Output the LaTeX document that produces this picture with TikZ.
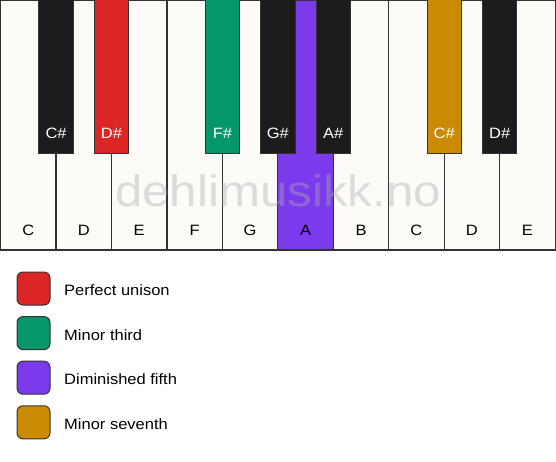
\documentclass[tikz,border=0pt]{standalone}
\usepackage{fontspec}
\setmainfont{Liberation Sans}

\definecolor{keywhite}{HTML}{FCFBF8}
\definecolor{keyblack}{HTML}{1C1C1C}
\definecolor{keyline}{HTML}{333333}
\definecolor{unison}{HTML}{DC2626}
\definecolor{third}{HTML}{059669}
\definecolor{fifth}{HTML}{7C3AED}
\definecolor{seventh}{HTML}{CA8A04}
\definecolor{mark}{HTML}{ACACAC}

\begin{document}
\begin{tikzpicture}[x=1pt,y=-1pt,
  keytext/.style={font=\fontsize{15}{18}\selectfont,xscale=1.1,inner sep=0pt}]
  \useasboundingbox (0,0) rectangle (556,461);

% WHITE KEYS ==================================================================
  \foreach \n/\c [count=\i from 0] in {C/keywhite,D/keywhite,E/keywhite,F/keywhite,G/keywhite,A/fifth,B/keywhite,C/keywhite,D/keywhite,E/keywhite} {
    \draw[keyline,line width=1.2pt,fill=\c] (0.6+55.45*\i,0) rectangle (56.05+55.45*\i,250);
    \node[keytext,anchor=base] (w\i) at (28.3+55.45*\i,235.5) {\n};
  }

% WATERMARK ===================================================================
  \node[anchor=base,text=mark,opacity=0.4,font=\fontsize{44}{50}\selectfont,xscale=1.12] (mark) at (278,206.5) {dehlimusikk.no};

% BLACK KEYS ==================================================================
  \foreach \i/\n/\c in {1/C\#/keyblack,2/D\#/unison,4/F\#/third,5/G\#/keyblack,6/A\#/keyblack,8/C\#/seventh,9/D\#/keyblack} {
    \draw[keyline,line width=1pt,fill=\c] (0.6+55.45*\i-17.2,-1) rectangle (0.6+55.45*\i+17.2,153);
    \node[keytext,anchor=base,text=white] (b\i) at (0.6+55.45*\i,138) {\n};
  }

% LEGEND ======================================================================
  \foreach \c/\t [count=\i from 0] in {unison/Perfect unison,third/Minor third,fifth/Diminished fifth,seventh/Minor seventh} {
    \draw[keyline,line width=1pt,fill=\c,rounded corners=6pt] (17,272+44.6*\i) rectangle (50,305+44.6*\i);
    \node[keytext,anchor=base west] (l\i) at (64,295.5+44.6*\i) {\t};
  }

\end{tikzpicture}
\end{document}
